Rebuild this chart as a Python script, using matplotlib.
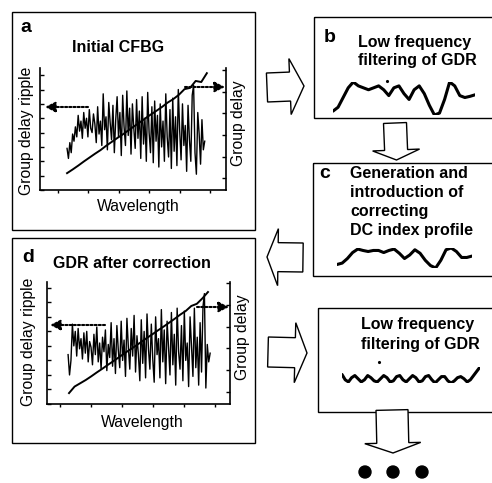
import numpy as np
import matplotlib.pyplot as plt
from matplotlib.patches import Rectangle, Polygon, Circle

plt.rcParams['font.family'] = ['Liberation Sans', 'DejaVu Sans']

W, H = 492, 483

# group delay ripple (left axis, tick units) and group delay ramp (right axis)
a_ripple = [2.9, 2.2, 3.3, 2.6, 3.9, 3.4, 4.4, 3.7, 5.2, 4.1,
            4.8, 3.6, 5.4, 4.3, 5.0, 3.7, 5.6, 4.3, 4.0, 5.3,
            4.6, 3.3, 5.8, 3.9, 4.8, 3.1, 6.7, 4.2, 5.1, 2.8,
            6.1, 4.7, 3.5, 5.9, 2.6, 4.9, 6.5, 3.7, 5.4, 2.4,
            6.6, 4.4, 3.1, 6.9, 3.8, 5.7, 2.5, 6.0, 4.3, 2.9,
            6.3, 3.6, 5.5, 2.2, 6.5, 3.2, 5.0, 2.0, 6.8, 4.0,
            2.6, 5.8, 1.9, 6.2, 3.4, 5.2, 1.6, 6.0, 3.0, 4.8,
            2.0, 6.7, 3.7, 2.3, 5.6, 1.5, 6.4, 2.7, 5.1, 1.7,
            7.0, 4.1, 2.1, 6.0, 3.1, 4.5, 1.3, 5.9, 3.5, 2.0,
            6.6, 7.3, 2.6, 1.1, 5.4, 3.9, 1.8, 4.9, 2.8, 3.4]
a_delay = [0.23, 0.40, 0.58, 0.77, 0.95, 1.13, 1.30, 1.50, 1.68, 1.86,
           2.03, 2.22, 2.40, 2.58, 2.77, 2.95, 3.12, 3.30, 3.50, 3.66,
           3.86, 4.12, 4.18, 4.50, 4.45, 4.86]

d_ripple = [3.4, 2.0, 3.0, 5.5, 4.0, 5.0, 3.3, 5.2, 3.8, 4.5,
            3.1, 4.9, 3.5, 5.0, 2.9, 4.3, 3.9, 2.7, 4.8, 3.4,
            5.3, 2.9, 4.2, 2.4, 4.6, 3.6, 5.1, 2.3, 4.1, 3.2,
            5.6, 2.6, 4.5, 2.1, 5.4, 3.7, 2.5, 5.7, 3.0, 4.4,
            1.9, 5.9, 3.9, 2.4, 5.2, 3.3, 6.1, 2.2, 4.7, 3.4,
            1.6, 5.8, 2.8, 5.0, 1.8, 6.2, 3.8, 2.4, 5.5, 3.1,
            1.5, 6.0, 3.4, 4.5, 1.8, 6.5, 2.9, 5.1, 1.4, 5.7,
            3.9, 2.0, 6.3, 2.7, 4.8, 1.3, 6.6, 3.6, 2.4, 5.4,
            1.6, 6.4, 3.0, 4.2, 1.2, 6.0, 4.0, 1.9, 6.6, 2.5,
            4.6, 1.3, 5.6, 2.2, 6.7, 7.6, 1.1, 4.1, 2.9, 3.5]
d_delay = [-0.05, 0.25, 0.40, 0.55, 0.72, 0.90, 1.07, 1.25, 1.42, 1.60,
           1.78, 1.95, 2.12, 2.30, 2.48, 2.65, 2.83, 3.00, 3.18, 3.36,
           3.55, 3.72, 3.95, 4.05, 4.30, 4.59]

# sketched low-frequency profiles
b_profile = [20, 30, 55, 80, 95, 85, 80, 75, 80, 85, 75, 60, 80, 85, 65,
             50, 75, 85, 65, 35, 10, 15, 50, 95, 85, 60, 55, 58, 62]
c_profile = [18, 22, 35, 52, 62, 58, 55, 58, 58, 52, 58, 62, 50, 35, 45,
             60, 50, 30, 15, 8, 30, 60, 65, 55, 38, 38, 42]
e_profile = [9, 4, 2, 6, 8, 5, 2, 4, 8, 6, 3, 2, 5, 8, 6, 2, 3, 7, 8, 4, 2, 5,
             8, 6, 2, 3, 7, 8, 4, 1, 4, 7, 7, 3, 1, 3, 6, 7, 5, 2, 4, 8, 12, 16]

text_b = ["Low frequency", "filtering of GDR"]
text_c = ["Generation and", "introduction of", "correcting", "DC index profile"]


def px_rect(x0, y0, x1, y1):
    return [x0 / W, 1 - y1 / H, (x1 - x0) / W, (y1 - y0) / H]


def block_arrow(ax, tail, tip, body, head, head_len):
    tail = np.array(tail, float)
    tip = np.array(tip, float)
    u = (tip - tail) / np.hypot(*(tip - tail))
    n = np.array([-u[1], u[0]])
    base = tip - u * head_len
    pts = [tail + n * body, base + n * body, base + n * head, tip,
           base - n * head, base - n * body, tail - n * body]
    ax.add_patch(Polygon(pts, closed=True, facecolor='white',
                         edgecolor='black', lw=1.0))


def gdr_panel(fig, rect, ripple, delay, xr, xd, xlim, yl, yr, nl):
    ax = fig.add_axes(px_rect(*rect))
    ax.set_facecolor('none')
    ax.plot(np.linspace(xr[0], xr[1], len(ripple)), ripple, color='black', lw=1.0)
    ax.set_xlim(xlim)
    ax.set_ylim(yl)
    ax.set_xticks(range(6))
    ax.set_yticks(range(nl + 1))
    ax.tick_params(axis='y', direction='in', length=3, width=1, labelleft=False)
    ax.tick_params(axis='x', direction='out', length=2.5, width=1, labelbottom=False)
    ax.spines['top'].set_visible(False)
    ax.spines['right'].set_visible(False)
    ax2 = ax.twinx()
    ax2.plot(np.linspace(xd[0], xd[1], len(delay)), delay, color='black', lw=1.4)
    ax2.set_ylim(yr)
    ax2.set_yticks(range(6))
    ax2.tick_params(axis='y', direction='in', length=3, width=1, labelright=False)
    for s in ['top', 'left', 'bottom']:
        ax2.spines[s].set_visible(False)
    for a in (ax, ax2):
        for s in a.spines.values():
            s.set_linewidth(1.2)


def profile(fig, rect, values):
    ax = fig.add_axes(px_rect(*rect))
    ax.plot(range(len(values)), values, color='black', lw=2.2,
            solid_capstyle='round', solid_joinstyle='round')
    ax.margins(0)
    ax.axis('off')


fig = plt.figure(figsize=(W / 100, H / 100), dpi=100)
ov = fig.add_axes([0, 0, 1, 1])
ov.set_xlim(0, W)
ov.set_ylim(H, 0)
ov.axis('off')

# frames
for x0, y0, x1, y1 in [(12, 12, 255, 230), (314, 17, 497, 118), (313, 163, 497, 276),
                       (12, 238, 255, 443), (318, 308, 497, 412)]:
    ov.add_patch(Rectangle((x0, y0), x1 - x0, y1 - y0, fill=False,
                           edgecolor='black', lw=1.0))

# flow arrows
block_arrow(ov, (267, 87.5), (304, 86), 14.5, 28, 14)
block_arrow(ov, (395, 123), (396.5, 160), 11.5, 23.5, 10)
block_arrow(ov, (303, 257.5), (267, 257), 14.5, 28.5, 11)
block_arrow(ov, (268, 352), (307, 353), 15, 30, 12)
block_arrow(ov, (392, 410), (393, 453), 16, 28, 10)
for cx in (365, 393, 422):
    ov.add_patch(Circle((cx, 472), 6, color='black'))

# panel a
ov.text(26, 27, 'a', fontsize=14, fontweight='bold', ha='center', va='center')
ov.text(118, 47, 'Initial CFBG', fontsize=11.5, fontweight='bold', ha='center', va='center')
ov.text(138, 207, 'Wavelength', fontsize=11.3, ha='center', va='center')
ov.text(27, 131, 'Group delay ripple', fontsize=11.3, rotation=90, ha='center', va='center')
ov.text(239, 123, 'Group delay', fontsize=11.3, rotation=90, ha='center', va='center')
gdr_panel(fig, (40, 68, 226, 190), a_ripple, a_delay, (0.3, 4.83), (0.3, 4.9),
          (-0.59, 5.53), (0, 8.5), (-0.55, 5.1), 8)

# panel d
ov.text(28, 257, 'd', fontsize=14, fontweight='bold', ha='center', va='center')
ov.text(132, 263, 'GDR after correction', fontsize=11.5, fontweight='bold', ha='center', va='center')
ov.text(142, 422, 'Wavelength', fontsize=11.3, ha='center', va='center')
ov.text(28, 342, 'Group delay ripple', fontsize=11.3, rotation=90, ha='center', va='center')
ov.text(243, 337, 'Group delay', fontsize=11.3, rotation=90, ha='center', va='center')
gdr_panel(fig, (47, 282, 230, 404), d_ripple, d_delay, (0.26, 4.84), (0.29, 4.77),
          (-0.42, 5.48), (0, 8.4), (-0.55, 5.05), 8)

# dotted pointers to the axes
arrow_kw = dict(arrowstyle='-|>', ls=(0, (1, 1)), lw=1.5, color='black',
                mutation_scale=15, shrinkA=0, shrinkB=0)
ov.annotate('', xy=(45, 107), xytext=(88, 107), arrowprops=arrow_kw)
ov.annotate('', xy=(225, 87), xytext=(185, 87), arrowprops=arrow_kw)
ov.annotate('', xy=(50, 325), xytext=(105, 325), arrowprops=arrow_kw)
ov.annotate('', xy=(229, 307), xytext=(197, 307), arrowprops=arrow_kw)

# panel b
ov.text(330, 37, 'b', fontsize=14, fontweight='bold', ha='center', va='center')
for i, line in enumerate(text_b):
    ov.text(358, 42 + 18 * i, line, fontsize=11.5, fontweight='bold', va='center')
ov.plot(387, 81, 'k.', ms=2.5)
profile(fig, (333, 82, 475, 115), b_profile)

# panel c
ov.text(325, 174, 'c', fontsize=14, fontweight='bold', ha='center', va='center')
for i, line in enumerate(text_c):
    ov.text(350, 173 + 19.3 * i, line, fontsize=11.5, fontweight='bold', va='center')
profile(fig, (337, 248, 472, 268), c_profile)

# panel e (second filtering step)
for i, line in enumerate(text_b):
    ov.text(361, 325 + 20 * i, line, fontsize=11.5, fontweight='bold', va='center')
ov.plot(379, 362, 'k.', ms=2.5)
profile(fig, (342, 367, 480, 383), e_profile)

fig.savefig('out.png', dpi=100)
